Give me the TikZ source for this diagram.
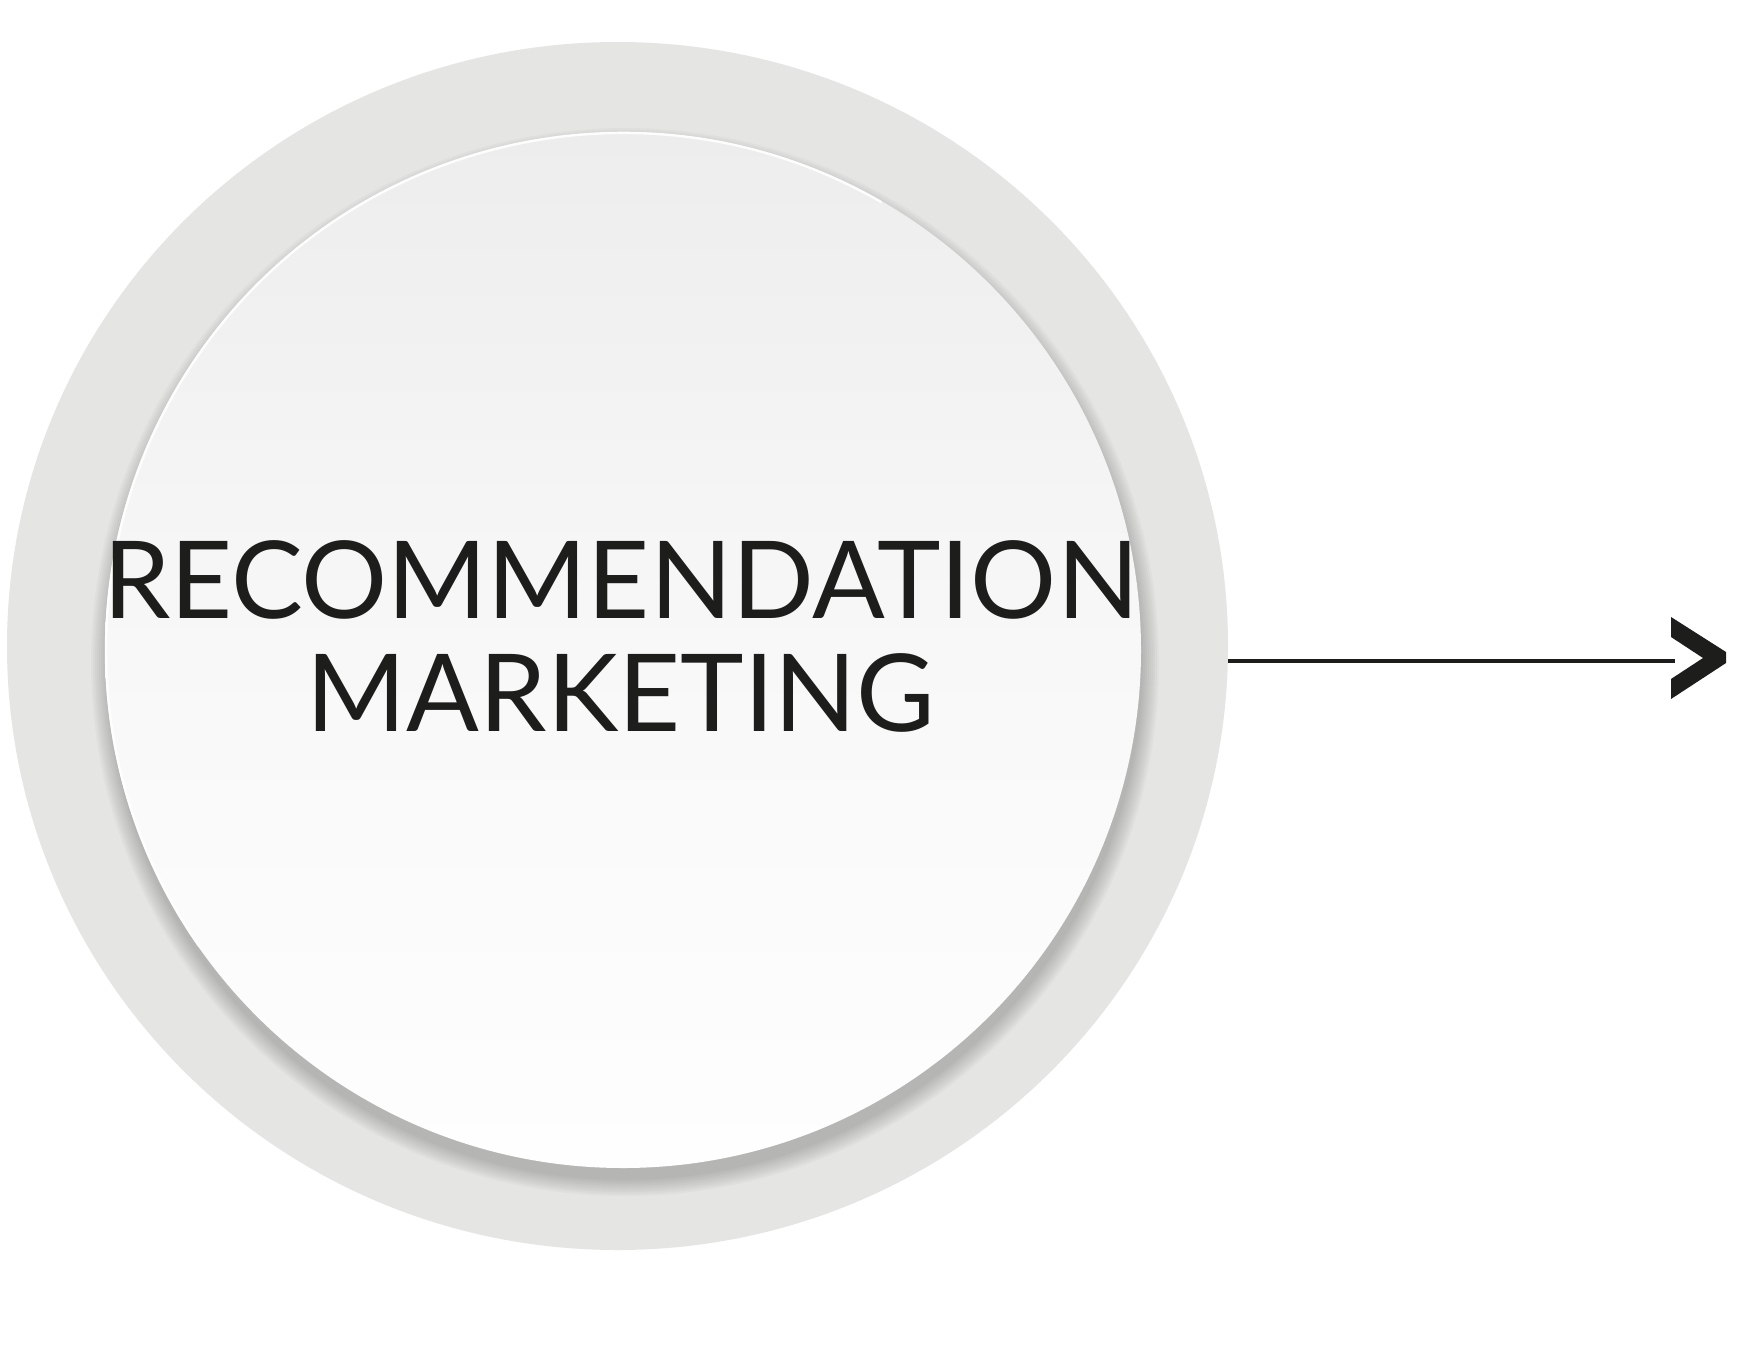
\documentclass[tikz,border=0pt]{standalone}
\usepackage{fontspec}
\setmainfont{Lato}
\usetikzlibrary{shapes.geometric}
\definecolor{ringgray}{HTML}{E5E5E4}
\definecolor{inktext}{HTML}{1D1D1B}
\definecolor{disctop}{HTML}{EDEDED}
\definecolor{discmid}{HTML}{F8F8F8}
\definecolor{discbot}{HTML}{FEFEFE}
\tikzset{
  ringshape/.style={ellipse, fill=ringgray, draw=none, inner sep=0pt,
    minimum width=610.5pt, minimum height=604pt},
  discshape/.style={circle, inner sep=0pt, minimum size=518pt, draw=none,
    top color=disctop, bottom color=discbot, middle color=discmid},
  shadowlayer/.style={fill=black, fill opacity=0.022, draw=none},
  rimline/.style={draw=white, line width=1.2pt, opacity=0.9},
  labeltext/.style={text=inktext, font=\fontsize{53.8pt}{56.5pt}\selectfont, align=center, inner sep=0pt},
  connector/.style={draw=inktext, line width=2pt},
  chevron/.style={fill=inktext, draw=none}
}
\begin{document}
\begin{tikzpicture}[x=0.5pt,y=-0.5pt]
\useasboundingbox[fill=white] (0,0) rectangle (1750,1354);
\node[ringshape] (outer) at (617.5,646) {};
\foreach \d in {0,2,...,16}{
  \fill[shadowlayer] (625,662) circle[radius=518+\d];
}
\node[discshape] (disc) at (623,650) {};
\draw[rimline] (disc.center) ++(60:258.5pt) arc[start angle=60, end angle=215, radius=258.5pt];
\node[labeltext, anchor=base] (label) at (621,731) {RECOMMENDATION\\MARKETING};
\coordinate (lstart) at (1228,661);
\coordinate (lend) at (1675,661);
\draw[connector] (lstart) -- (lend);
\fill[chevron] (1671,617) -- (1726,652) -- (1726,663) -- (1671,699) -- (1671,679) -- (1703,658) -- (1671,637) -- cycle;
\end{tikzpicture}
\end{document}
